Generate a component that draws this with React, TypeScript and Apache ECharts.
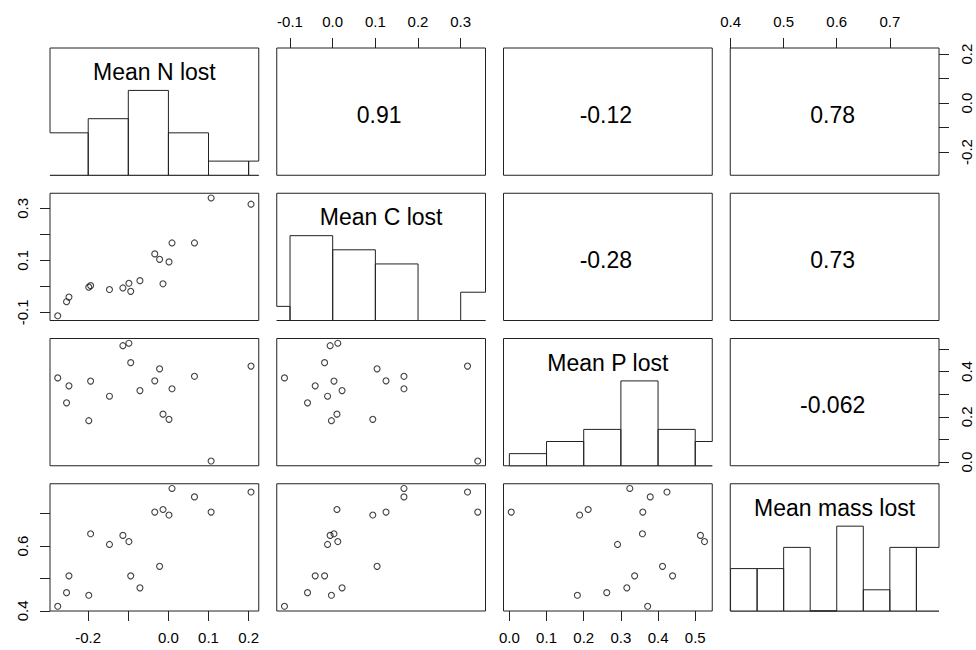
import React, { useEffect, useRef } from 'react';
import * as echarts from 'echarts';

// ---------- data ----------
const varNames = ['Mean N lost', 'Mean C lost', 'Mean P lost', 'Mean mass lost'];

const meanN = [-0.276, -0.254, -0.248, -0.1985, -0.194, -0.147, -0.1135, -0.0985, -0.094, -0.071, -0.0135, -0.034, -0.022, 0.0015, 0.009, 0.065, 0.1065, 0.206];
const meanC = [-0.113, -0.059, -0.041, -0.003, 0.003, -0.012, -0.006, 0.012, -0.019, 0.022, 0.010, 0.125, 0.104, 0.094, 0.167, 0.167, 0.340, 0.316];
const meanP = [0.372, 0.262, 0.337, 0.183, 0.358, 0.291, 0.514, 0.525, 0.439, 0.316, 0.212, 0.359, 0.412, 0.189, 0.324, 0.379, 0.005, 0.424];
const meanMass = [0.414, 0.456, 0.508, 0.448, 0.638, 0.605, 0.633, 0.614, 0.508, 0.471, 0.713, 0.705, 0.5375, 0.696, 0.778, 0.752, 0.705, 0.767];

// histogram bins (breaks) and counts for the diagonal panels
const histBreaksN = [-0.3, -0.2, -0.1, 0.0, 0.1, 0.2, 0.3];
const histCountsN = [3, 4, 6, 3, 1, 1];
const histBreaksC = [-0.2, -0.1, 0.0, 0.1, 0.2, 0.3, 0.4];
const histCountsC = [1, 6, 5, 4, 0, 2];
const histBreaksP = [0.0, 0.1, 0.2, 0.3, 0.4, 0.5, 0.6];
const histCountsP = [1, 2, 3, 7, 3, 2];
const histBreaksM = [0.4, 0.45, 0.5, 0.55, 0.6, 0.65, 0.7, 0.75, 0.8];
const histCountsM = [2, 2, 3, 0, 4, 1, 3, 3];

// correlation texts in the upper panels
const corrRows = [0, 0, 0, 1, 1, 2];
const corrCols = [1, 2, 3, 2, 3, 3];
const corrTexts = ['0.91', '-0.12', '0.78', '-0.28', '0.73', '-0.062'];

// tick values and tick labels
const ticksN = [-0.2, -0.1, 0.0, 0.1, 0.2];
const labelsNBottom = [-0.2, 0.0, 0.1, 0.2];
const labelsNRight = [-0.2, 0.0, 0.2];
const ticksC = [-0.1, 0.0, 0.1, 0.2, 0.3];
const labelsCTop = [-0.1, 0.0, 0.1, 0.2, 0.3];
const labelsCLeft = [-0.1, 0.1, 0.3];
const ticksP = [0.0, 0.1, 0.2, 0.3, 0.4, 0.5];
const labelsPBottom = [0.0, 0.1, 0.2, 0.3, 0.4, 0.5];
const labelsPRight = [0.0, 0.2, 0.4];
const ticksM = [0.4, 0.5, 0.6, 0.7];
const labelsMTop = [0.4, 0.5, 0.6, 0.7];
const labelsMLeft = [0.4, 0.6];

// ---------- layout ----------
const W = 976;
const H = 650;
const LEFT0 = 50;
const TOP0 = 48;
const PW = 208.75;
const PH = 127.25;
const GAP = 18;
const FONT = '"Liberation Sans", Arial, sans-serif';
const LINE = '#222';

const vars = [meanN, meanC, meanP, meanMass];
const histBreaks = [histBreaksN, histBreaksC, histBreaksP, histBreaksM];
const histCounts = [histCountsN, histCountsC, histCountsP, histCountsM];

function extRange(a: number[]): [number, number] {
  const mn = Math.min(...a);
  const mx = Math.max(...a);
  const s = mx - mn;
  return [mn - 0.04 * s, mx + 0.04 * s];
}

const fmt = (v: number) => (Math.abs(v) < 1e-9 ? '0.0' : v.toFixed(1));

function buildOption() {
  const ranges = vars.map(extRange);
  const grid: any[] = [];
  const xAxis: any[] = [];
  const yAxis: any[] = [];
  const series: any[] = [];
  const graphic: any[] = [];

  const topAxis: Record<number, [number[], number[]]> = { 1: [ticksC, labelsCTop], 3: [ticksM, labelsMTop] };
  const bottomAxis: Record<number, [number[], number[]]> = { 0: [ticksN, labelsNBottom], 2: [ticksP, labelsPBottom] };
  const leftAxis: Record<number, [number[], number[]]> = { 1: [ticksC, labelsCLeft], 3: [ticksM, labelsMLeft] };
  const rightAxis: Record<number, [number[], number[]]> = { 0: [ticksN, labelsNRight], 2: [ticksP, labelsPRight] };

  const tickStyle = (vals: number[]) => ({
    show: true,
    customValues: vals,
    length: 10,
    inside: false,
    lineStyle: { color: LINE, width: 1 },
  });
  const labelStyle = (vals: number[], rotate: number) => ({
    show: true,
    customValues: vals,
    margin: rotate ? 20 : 19,
    rotate,
    fontSize: 15,
    fontFamily: FONT,
    color: '#000',
    formatter: (v: number) => fmt(v),
  });

  for (let r = 0; r < 4; r++) {
    for (let c = 0; c < 4; c++) {
      const gi = r * 4 + c;
      const left = LEFT0 + c * (PW + GAP);
      const top = TOP0 + r * (PH + GAP);
      grid.push({
        left,
        top,
        width: PW,
        height: PH,
        show: true,
        borderColor: LINE,
        borderWidth: 1,
        backgroundColor: 'transparent',
        containLabel: false,
      });

      const xa: any = {
        type: 'value',
        gridIndex: gi,
        min: ranges[c][0],
        max: ranges[c][1],
        axisLine: { show: false, onZero: false },
        axisTick: { show: false },
        axisLabel: { show: false },
        splitLine: { show: false },
      };
      if (r === 0 && topAxis[c]) {
        xa.position = 'top';
        xa.axisTick = tickStyle(topAxis[c][0]);
        xa.axisLabel = labelStyle(topAxis[c][1], 0);
      }
      if (r === 3 && bottomAxis[c]) {
        xa.position = 'bottom';
        xa.axisTick = tickStyle(bottomAxis[c][0]);
        xa.axisLabel = labelStyle(bottomAxis[c][1], 0);
      }
      xAxis.push(xa);

      const ya: any = {
        type: 'value',
        gridIndex: gi,
        min: r === c ? 0 : ranges[r][0],
        max: r === c ? 1.5 : ranges[r][1],
        axisLine: { show: false, onZero: false },
        axisTick: { show: false },
        axisLabel: { show: false },
        splitLine: { show: false },
      };
      if (c === 0 && r !== c && leftAxis[r]) {
        ya.position = 'left';
        ya.axisTick = tickStyle(leftAxis[r][0]);
        ya.axisLabel = labelStyle(leftAxis[r][1], 90);
      }
      if (c === 3 && r !== c && rightAxis[r]) {
        ya.position = 'right';
        ya.axisTick = tickStyle(rightAxis[r][0]);
        ya.axisLabel = labelStyle(rightAxis[r][1], 90);
      }
      yAxis.push(ya);

      if (r > c) {
        series.push({
          type: 'scatter',
          xAxisIndex: gi,
          yAxisIndex: gi,
          symbol: 'circle',
          symbolSize: 6,
          itemStyle: { color: 'rgba(0,0,0,0)', borderColor: '#111', borderWidth: 1.1 },
          data: vars[c].map((x, i) => [x, vars[r][i]]),
          silent: true,
        });
      } else if (r === c) {
        const br = histBreaks[r];
        const cnt = histCounts[r];
        const mx = Math.max(...cnt);
        const hdata = cnt.map((n, i) => [br[i], br[i + 1], n / mx]);
        series.push({
          type: 'custom',
          xAxisIndex: gi,
          yAxisIndex: gi,
          silent: true,
          z: 3,
          encode: { x: [0, 1], y: 2 },
          data: hdata,
          renderItem: (params: any, api: any) => {
            const x0 = api.value(0);
            const x1 = api.value(1);
            const h = api.value(2);
            if (h <= 0) return null;
            const cs = params.coordSys;
            const a = api.coord([x0, 0]);
            const b = api.coord([x1, h]);
            const L = Math.max(a[0], cs.x - 1.2);
            const R = Math.min(b[0], cs.x + cs.width + 1.2);
            if (R <= L) return null;
            return {
              type: 'rect',
              shape: { x: L, y: b[1], width: R - L, height: a[1] - b[1] },
              style: { fill: '#fff', stroke: null },
            };
          },
        });
        series.push({
          type: 'custom',
          xAxisIndex: gi,
          yAxisIndex: gi,
          silent: true,
          z: 4,
          encode: { x: [0, 1], y: 2 },
          data: hdata,
          renderItem: (params: any, api: any) => {
            const x0 = api.value(0);
            const x1 = api.value(1);
            const h = api.value(2);
            const cs = params.coordSys;
            const a = api.coord([x0, 0]);
            const b = api.coord([x1, h]);
            const xl = Math.max(a[0], cs.x);
            const xr = Math.min(b[0], cs.x + cs.width);
            if (xr <= xl) return null;
            const st = { stroke: LINE, lineWidth: 1, fill: null };
            const children: any[] = [
              { type: 'line', shape: { x1: xl, y1: b[1], x2: xr, y2: b[1] }, style: st },
              { type: 'line', shape: { x1: xl, y1: a[1], x2: xr, y2: a[1] }, style: st },
            ];
            if (a[0] >= cs.x - 0.01) {
              children.push({ type: 'line', shape: { x1: a[0], y1: b[1], x2: a[0], y2: a[1] }, style: st });
            }
            if (b[0] <= cs.x + cs.width + 0.01) {
              children.push({ type: 'line', shape: { x1: b[0], y1: b[1], x2: b[0], y2: a[1] }, style: st });
            }
            return { type: 'group', children };
          },
        });
        graphic.push({
          type: 'text',
          x: left + PW / 2,
          y: top + 24,
          z: 10,
          silent: true,
          style: {
            text: varNames[r],
            font: `23px ${FONT}`,
            fill: '#000',
            textAlign: 'center',
            textVerticalAlign: 'middle',
          },
        });
      }
    }
  }

  for (let k = 0; k < corrTexts.length; k++) {
    const r = corrRows[k];
    const c = corrCols[k];
    const left = LEFT0 + c * (PW + GAP);
    const top = TOP0 + r * (PH + GAP);
    graphic.push({
      type: 'text',
      x: left + PW / 2 - 2,
      y: top + PH / 2 + 3,
      silent: true,
      style: {
        text: corrTexts[k],
        font: `23px ${FONT}`,
        fill: '#000',
        textAlign: 'center',
        textVerticalAlign: 'middle',
      },
    });
  }

  return {
    animation: false,
    backgroundColor: '#fff',
    grid,
    xAxis,
    yAxis,
    series,
    graphic,
  };
}

export default function App() {
  const ref = useRef<HTMLDivElement>(null);
  useEffect(() => {
    if (!ref.current) return;
    const chart = echarts.init(ref.current, undefined, { renderer: 'svg', width: W, height: H });
    chart.setOption(buildOption() as any);
    return () => chart.dispose();
  }, []);
  return (
    <div
      ref={ref}
      style={{ position: 'fixed', left: 0, top: 0, width: W, height: H, background: '#fff' }}
    />
  );
}
